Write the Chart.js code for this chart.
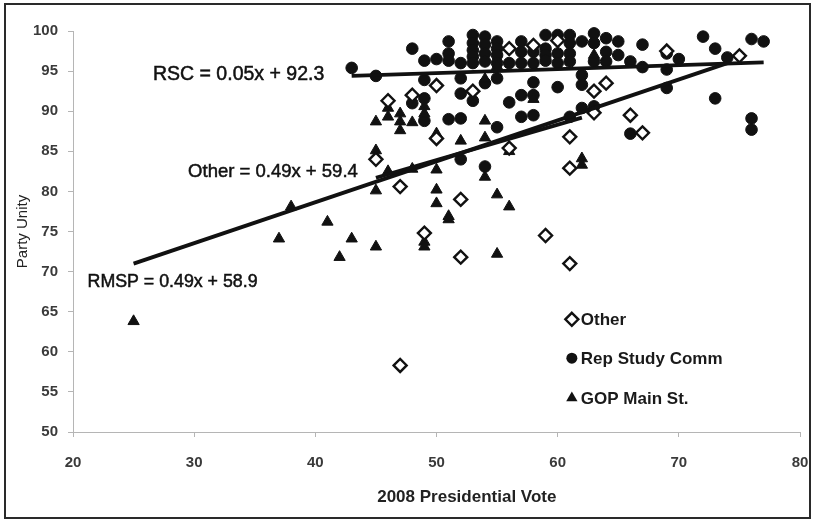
<!DOCTYPE html>
<html><head><meta charset="utf-8">
<script src="https://cdn.jsdelivr.net/npm/chart.js@4.4.1/dist/chart.umd.min.js"></script>
<style>html,body{margin:0;padding:0;background:#fff;}#wrap{width:815px;height:520px;}</style>
</head><body><div id="wrap"><canvas id="c" width="815" height="520"></canvas></div>
<script>
// ---- data ----
const xTicks = [20, 30, 40, 50, 60, 70, 80];
const yTicks = [50, 55, 60, 65, 70, 75, 80, 85, 90, 95, 100];

const otherX = [45,46,47,47,48,49,50,50,52,52,53,56,56,58,59,60,61,61,61,63,63,64,66,67,69,75];
const otherY = [84.0,91.3,80.6,58.3,92.0,74.8,93.2,86.6,79.0,71.8,92.5,97.8,85.4,98.2,74.5,98.8,86.8,82.9,71.0,92.5,89.8,93.5,89.5,87.3,97.5,96.9];

const rscX = [43,45,48,48,49,49,49,49,50,51,51,51,51,52,52,52,52,52,
  53,53,53,53,53,53,54,54,54,54,54,54,55,55,55,55,55,55,56,56,
  57,57,57,57,57,58,58,58,58,58,59,59,59,59,60,60,60,60,
  61,61,61,61,61,62,62,62,62,63,63,63,63,64,64,64,65,65,66,66,67,67,
  69,69,69,70,72,73,73,74,76,76,76,77];
const rscY = [95.4,94.4,97.8,91.0,96.3,93.9,91.6,88.8,96.5,98.7,97.2,96.3,89.0,96.0,94.1,92.2,89.1,84.0,
  99.5,98.5,97.6,96.8,96.0,91.3,99.3,98.3,97.2,96.2,93.5,83.1,98.7,97.8,97.0,96.0,94.1,88.0,96.0,91.1,
  98.7,97.4,96.0,92.0,89.3,97.4,96.0,93.6,92.0,89.5,99.5,97.8,97.0,96.3,99.5,97.2,96.0,93.0,
  99.5,98.5,97.2,96.2,89.3,98.7,94.5,93.3,90.4,99.7,98.5,96.2,90.6,99.1,97.4,96.2,98.7,97.0,96.2,87.2,98.3,95.5,
  97.2,95.2,92.9,96.5,99.3,97.8,91.6,96.7,99.0,89.1,87.7,98.7];

const gopX = [25,37,38,41,42,43,45,45,45,45,46,46,46,47,47,47,48,48,49,49,49,49,
  50,50,50,50,51,51,52,54,54,54,54,55,55,55,56,56,58,62,62,63];
const gopY = [63.8,74.1,78.1,76.2,71.8,74.1,88.7,85.1,80.1,73.1,90.4,89.3,82.5,89.7,88.7,87.6,88.6,82.8,90.6,89.7,73.7,73.1,
  87.2,82.7,80.2,78.5,76.9,76.5,86.3,94.0,88.8,86.7,81.8,95.6,79.6,72.2,85.0,78.1,91.5,84.1,83.3,97.0];

// trend line end points as seen in the picture
const rscLineX = [43, 77];   const rscLineY = [94.4, 96.1];
const otherLineX = [45, 62]; const otherLineY = [81.7, 89.2];
const rmspLineX = [25, 74];  const rmspLineY = [71.0, 96.0];

const seriesNames = ['Other', 'Rep Study Comm', 'GOP Main St.'];
const eqLabels = ['RSC = 0.05x + 92.3', 'Other = 0.49x + 59.4', 'RMSP = 0.49x + 58.9'];
const xTitle = '2008 Presidential Vote';
const yTitle = 'Party Unity';

// ---- build ----
const pts = (xs, ys) => xs.map((x, i) => ({x, y: ys[i]}));
const FONT = "'Liberation Sans', Arial, sans-serif";

const lineDs = (xs, ys) => ({
  type: 'line', data: pts(xs, ys), showLine: true, borderColor: '#111', borderWidth: 3.8,
  pointRadius: 0, fill: false, tension: 0, clip: false
});

const eqPos = [
  {x: 26.6, y: 94.5, size: 19.5},
  {x: 29.5, y: 82.45, size: 18.5},
  {x: 21.2, y: 68.7, size: 17.8}
];
const legendPos = {x: 61.17, y: [64.05, 59.2, 54.24]};
const xTitlePos = {x: 52.5, py: 497};

function marker(ctx, style, x, y, r) {
  ctx.save();
  ctx.beginPath();
  if (style === 'rectRot') {
    ctx.moveTo(x, y - r); ctx.lineTo(x + r, y); ctx.lineTo(x, y + r); ctx.lineTo(x - r, y); ctx.closePath();
    ctx.fillStyle = '#fff'; ctx.fill(); ctx.lineWidth = 2.4; ctx.strokeStyle = '#111'; ctx.stroke();
  } else if (style === 'circle') {
    ctx.arc(x, y, r, 0, Math.PI * 2); ctx.fillStyle = '#111'; ctx.fill();
  } else {
    ctx.moveTo(x, y - r); ctx.lineTo(x + r * 0.87, y + r * 0.5); ctx.lineTo(x - r * 0.87, y + r * 0.5); ctx.closePath();
    ctx.fillStyle = '#111'; ctx.fill();
  }
  ctx.restore();
}

const decor = {
  id: 'decor',
  afterDraw(chart) {
    const {ctx, scales: {x, y}} = chart;
    ctx.save();
    // frame
    ctx.strokeStyle = '#2a2a2a'; ctx.lineWidth = 2;
    ctx.strokeRect(5, 4, 805, 514);
    // x title
    ctx.font = 'bold 17px ' + FONT; ctx.fillStyle = '#222';
    ctx.textAlign = 'center'; ctx.textBaseline = 'middle';
    ctx.fillText(xTitle, x.getPixelForValue(xTitlePos.x), xTitlePos.py);
    // equations
    ctx.fillStyle = '#111'; ctx.textBaseline = 'middle'; ctx.textAlign = 'left';
    eqLabels.forEach((t, i) => {
      ctx.font = eqPos[i].size + 'px ' + FONT;
      const px = x.getPixelForValue(eqPos[i].x), py = y.getPixelForValue(eqPos[i].y);
      ctx.fillText(t, px, py);
      ctx.lineWidth = 0.5; ctx.strokeStyle = '#111'; ctx.strokeText(t, px, py);
    });
    // legend
    const styles = ['rectRot', 'circle', 'triangle'];
    const radii = [6.5, 5.5, 6.5];
    const lx = x.getPixelForValue(legendPos.x);
    seriesNames.forEach((n, i) => {
      const ly = y.getPixelForValue(legendPos.y[i]);
      marker(ctx, styles[i], lx, ly, radii[i]);
      ctx.font = 'bold 17px ' + FONT; ctx.fillStyle = '#1a1a1a';
      ctx.fillText(n, lx + 9, ly + 1);
    });
    ctx.restore();
  }
};

new Chart(document.getElementById('c'), {
  type: 'scatter',
  data: {
    datasets: [
      lineDs(rscLineX, rscLineY),
      lineDs(otherLineX, otherLineY),
      lineDs(rmspLineX, rmspLineY),
      {label: seriesNames[0], data: pts(otherX, otherY), pointStyle: 'rectRot', pointRadius: 6.5,
       backgroundColor: '#fff', borderColor: '#111', borderWidth: 2.4, clip: false},
      {label: seriesNames[2], data: pts(gopX, gopY), pointStyle: 'triangle', pointRadius: 6.5,
       backgroundColor: '#111', borderColor: '#111', borderWidth: 1, clip: false},
      {label: seriesNames[1], data: pts(rscX, rscY), pointStyle: 'circle', pointRadius: 5.8,
       backgroundColor: '#111', borderColor: '#111', borderWidth: 1, clip: false}
    ]
  },
  options: {
    responsive: false, animation: false, devicePixelRatio: 1,
    layout: {padding: {top: 31, right: 15, left: 0, bottom: 0}},
    plugins: {legend: {display: false}, tooltip: {enabled: false}},
    scales: {
      x: {
        type: 'linear', min: 20, max: 80,
        afterBuildTicks: s => { s.ticks = xTicks.map(v => ({value: v})); },
        afterFit: s => { s.height = 88; s.paddingLeft = 0; s.paddingRight = 0; },
        ticks: {color: '#3a3a3a', font: {family: FONT, size: 15, weight: 'bold'}, padding: 17},
        grid: {drawOnChartArea: false, drawTicks: true, tickLength: 5, color: '#b5b5b5'},
        border: {color: '#b5b5b5', width: 1},
        title: {display: false}
      },
      y: {
        type: 'linear', min: 50, max: 100,
        afterBuildTicks: s => { s.ticks = yTicks.map(v => ({value: v})); },
        afterFit: s => { s.width = 73; s.paddingTop = 0; s.paddingBottom = 0; },
        ticks: {color: '#3a3a3a', font: {family: FONT, size: 15, weight: 'bold'}, padding: 10},
        grid: {drawOnChartArea: false, drawTicks: true, tickLength: 5, color: '#b5b5b5'},
        border: {color: '#b5b5b5', width: 1},
        title: {display: true, text: yTitle, color: '#222',
                font: {family: FONT, size: 15}, padding: {top: 14, bottom: 0}}
      }
    }
  },
  plugins: [decor]
});
</script></body></html>
